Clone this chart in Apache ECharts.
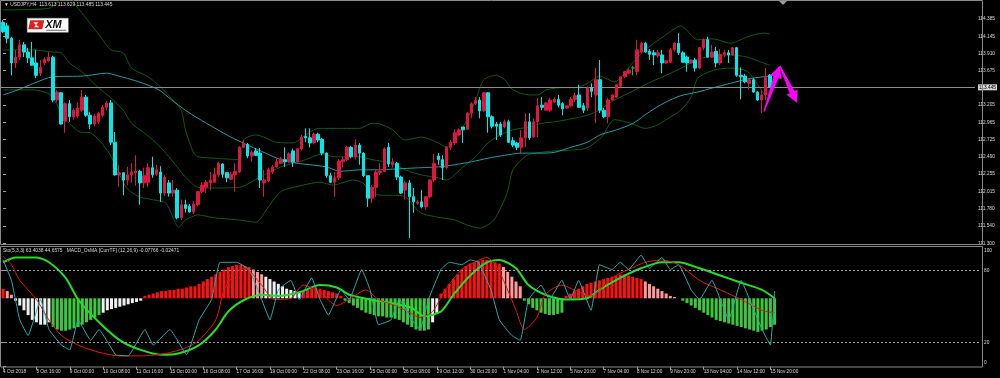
<!DOCTYPE html>
<html><head><meta charset="utf-8">
<script src="https://cdn.jsdelivr.net/npm/echarts@6/dist/echarts.min.js"></script>
<style>html,body{margin:0;padding:0;background:#000;}#c{width:1000px;height:378px;}</style>
</head><body><div id="c"></div>
<script>
// ---------------- DATA ----------------
const timeTicks = ['4 Oct 2018','5 Oct 16:00','9 Oct 00:00','10 Oct 08:00','11 Oct 16:00','15 Oct 00:00','16 Oct 08:00','17 Oct 16:00','19 Oct 00:00','22 Oct 08:00','23 Oct 16:00','25 Oct 00:00','26 Oct 08:00','29 Oct 12:00','30 Oct 20:00','1 Nov 04:00','2 Nov 12:00','5 Nov 20:00','7 Nov 04:00','8 Nov 12:00','9 Nov 20:00','13 Nov 04:00','14 Nov 12:00','15 Nov 20:00'];
const priceTicks = [114.385,114.145,113.910,113.675,113.205,112.965,112.725,112.490,112.255,112.015,111.780,111.540,111.300];
const stochTicks = [100,80,20,0];
const currentPrice = 113.445;

const opens = [114.34,114.29,114.12,113.78,113.86,114.03,113.93,113.85,113.78,113.64,
113.78,113.81,113.86,113.27,113.37,112.98,113.22,113.04,113.05,113.13,
113.31,113.06,112.94,112.97,113.06,113.17,113.23,112.69,112.24,112.27,
112.17,112.24,112.27,112.29,112.13,112.14,112.34,112.25,112.28,111.99,
112.13,111.99,112.03,111.65,111.83,111.81,111.73,111.83,112.01,112.07,
112.13,112.14,112.24,112.39,112.27,112.18,112.24,112.28,112.62,112.66,
112.50,112.57,112.54,112.13,112.16,112.28,112.35,112.40,112.45,112.42,
112.57,112.42,112.60,112.77,112.75,112.68,112.80,112.73,112.54,112.23,
112.14,112.20,112.42,112.45,112.62,112.49,112.65,112.54,112.23,111.92,
112.07,112.27,112.29,112.62,112.38,112.40,112.21,112.03,112.13,111.94,
111.85,111.87,111.80,111.94,112.17,112.50,112.45,112.34,112.62,112.68,
112.79,112.90,112.87,113.09,113.22,113.27,113.12,113.37,113.04,112.94,
112.94,112.90,112.97,112.71,112.68,112.62,112.75,112.97,112.76,112.97,
113.20,113.13,113.13,113.24,113.28,113.22,113.16,113.19,113.28,113.34,
113.19,113.16,113.44,113.34,113.55,113.13,113.04,113.27,113.31,113.46,
113.59,113.64,113.71,113.66,113.93,114.05,113.94,113.92,113.88,113.89,
113.78,113.79,113.96,114.05,113.92,113.86,113.78,113.82,113.71,113.99,
114.10,113.86,113.94,113.78,113.90,113.92,113.89,113.99,113.61,113.60,
113.50,113.55,113.38,113.27,113.34,113.613];
const closes = [114.21,114.12,113.78,113.86,114.03,113.93,113.85,113.75,113.61,113.72,
113.83,113.86,113.27,113.38,112.94,113.22,113.04,113.13,113.16,113.31,
113.06,112.94,113.05,113.09,113.17,113.23,112.69,112.24,112.27,112.17,
112.24,112.28,112.29,112.13,112.23,112.34,112.24,112.31,111.99,112.21,
111.99,112.03,111.65,111.83,111.78,111.73,111.84,112.01,112.10,112.14,
112.17,112.25,112.40,112.25,112.20,112.25,112.29,112.62,112.68,112.50,
112.55,112.51,112.17,112.17,112.31,112.35,112.42,112.46,112.42,112.53,
112.42,112.60,112.76,112.75,112.68,112.80,112.72,112.54,112.23,112.14,
112.20,112.43,112.45,112.62,112.49,112.65,112.54,112.23,111.92,112.07,
112.28,112.29,112.60,112.39,112.42,112.21,111.99,112.13,111.94,111.87,
111.87,111.80,111.94,112.17,112.40,112.45,112.34,112.62,112.69,112.82,
112.86,112.86,113.09,113.22,113.27,113.12,113.37,113.04,112.91,112.91,
112.79,112.97,112.69,112.65,112.62,112.75,112.97,112.75,112.97,113.19,
113.17,113.23,113.27,113.28,113.20,113.15,113.19,113.28,113.33,113.17,
113.13,113.44,113.39,113.55,113.13,113.04,113.27,113.34,113.48,113.59,
113.66,113.68,113.71,113.96,114.05,113.93,113.90,113.89,113.92,113.78,
113.81,113.96,114.05,113.92,113.79,113.78,113.82,113.71,113.99,114.10,
113.86,113.93,113.78,113.90,113.92,113.89,113.99,113.61,113.59,113.52,
113.55,113.38,113.27,113.34,113.59,113.445];
const highs = [114.37,114.33,114.14,113.96,114.10,114.07,113.99,114.07,113.96,113.82,
113.86,113.93,113.88,113.41,113.38,113.24,113.27,113.16,113.24,113.41,
113.34,113.11,113.08,113.11,113.20,113.26,113.27,112.83,112.38,112.28,
112.35,112.40,112.51,112.31,112.34,112.40,112.49,112.38,112.36,112.24,
112.17,112.17,112.06,111.90,111.90,111.84,111.88,112.02,112.14,112.17,
112.28,112.34,112.42,112.40,112.28,112.28,112.40,112.64,112.72,112.68,
112.58,112.61,112.61,112.31,112.34,112.38,112.46,112.49,112.62,112.55,
112.60,112.61,112.79,112.88,112.88,112.82,112.82,112.75,112.55,112.27,
112.28,112.46,112.49,112.64,112.64,112.73,112.68,112.55,112.23,112.10,
112.31,112.40,112.62,112.68,112.47,112.42,112.23,112.16,112.17,112.06,
111.90,112.03,111.95,112.18,112.53,112.54,112.51,112.64,112.72,112.87,
112.88,112.90,113.11,113.24,113.31,113.31,113.38,113.38,113.06,112.97,
112.97,113.00,113.00,112.76,112.69,112.86,113.09,113.09,113.02,113.30,
113.31,113.24,113.30,113.31,113.34,113.24,113.20,113.31,113.37,113.48,
113.23,113.46,113.50,113.71,113.82,113.16,113.30,113.35,113.49,113.60,
113.67,113.71,113.74,114.10,114.07,114.07,113.97,113.96,113.96,113.96,
113.82,113.99,114.07,114.19,113.94,113.88,113.83,113.85,114.00,114.12,
114.14,114.03,114.00,113.97,113.96,113.96,114.00,114.00,113.72,113.63,
113.57,113.57,113.39,113.41,113.71,113.629];
const lows = [114.19,114.05,113.61,113.71,113.82,113.86,113.78,113.74,113.57,113.60,
113.75,113.79,113.24,113.24,112.93,112.82,112.97,113.00,113.02,113.11,
113.04,112.87,112.91,112.94,113.04,113.13,112.65,112.23,112.07,111.96,
112.10,112.13,112.09,111.83,112.06,112.07,112.20,112.23,111.87,111.95,
111.94,111.94,111.63,111.62,111.72,111.72,111.70,111.81,111.99,111.99,
112.03,112.13,112.21,112.20,112.14,112.17,112.01,112.27,112.61,112.47,
112.42,112.50,112.06,111.94,112.14,112.25,112.34,112.39,112.35,112.40,
112.35,112.40,112.58,112.69,112.62,112.66,112.69,112.51,112.20,112.13,
111.94,112.17,112.34,112.43,112.47,112.45,112.38,112.21,111.80,111.85,
111.94,112.24,112.28,112.35,112.34,112.17,111.98,111.90,111.37,111.72,
111.83,111.78,111.76,111.92,112.14,112.38,112.17,112.32,112.58,112.65,
112.77,112.68,112.86,113.02,113.20,113.02,113.11,112.82,112.88,112.72,
112.76,112.88,112.68,112.62,112.58,112.54,112.62,112.72,112.75,112.76,
113.13,113.12,113.11,113.23,113.17,113.06,113.15,113.17,113.24,113.16,
113.09,113.12,113.31,112.95,113.09,113.02,112.95,113.26,113.30,113.45,
113.57,113.63,113.61,113.61,113.92,113.92,113.82,113.75,113.85,113.64,
113.77,113.78,113.94,113.89,113.78,113.66,113.77,113.66,113.70,113.96,
113.86,113.85,113.72,113.75,113.86,113.78,113.88,113.59,113.28,113.50,
113.41,113.37,113.26,113.09,113.27,113.435];

// Bollinger bands & slow MA, read as [bar index, price]
const bbUpper = [[0,114.51],[11,114.53],[14,114.66],[16,114.72],[17.5,114.58],[20.4,114.37],[23.5,114.14],[26,113.96],[29,113.92],[31,113.71],[35,113.59],[38,113.45],[41,113.27],[43,113.13],[44,112.86],[46,112.54],[47,112.49],[51,112.47],[57,112.45],[58,112.72],[61,112.79],[66,112.69],[70,112.68],[73,112.79],[76,112.88],[82,112.88],[86,112.88],[89,112.95],[91,112.94],[94,112.86],[97,112.72],[101,112.76],[105,112.68],[107,112.62],[111,112.90],[114,113.27],[116,113.55],[119,113.61],[121,113.55],[123,113.41],[127,113.34],[129,113.34],[131,113.41],[135,113.44],[138,113.44],[141,113.50],[144,113.60],[147.5,113.52],[152,113.79],[155.6,113.99],[159.5,114.15],[163.5,114.29],[167.6,114.10],[171.4,114.11],[175.5,114.05],[179.6,114.14],[183.4,114.19],[185,114.18]];
const bbMiddle = [[0,113.96],[7,113.96],[12,113.93],[14,113.92],[16,113.78],[19,113.66],[21,113.55],[23,113.44],[26,113.30],[29,113.13],[31,112.95],[34,112.82],[37,112.68],[40,112.49],[42,112.35],[44,112.21],[47,112.07],[51,112.06],[57,112.07],[62,112.21],[67,112.35],[73,112.45],[77,112.53],[80,112.49],[86,112.49],[89,112.45],[94,112.40],[97,112.31],[101,112.24],[105,112.20],[107,112.17],[111,112.35],[114,112.49],[117,112.68],[120,112.79],[123,112.86],[127,112.90],[130,112.95],[133,112.97],[136,113.00],[141,113.06],[144,113.14],[147.5,113.27],[151.5,113.38],[155.6,113.50],[159.5,113.60],[163.7,113.71],[167.6,113.83],[171.4,113.88],[175.5,113.89],[179.6,113.86],[183.4,113.78],[185,113.75]];
const bbLower = [[0,113.41],[7,113.41],[11.5,113.34],[14.3,113.06],[16,112.95],[18.5,112.83],[21,112.82],[25.6,112.54],[29.7,112.07],[32.8,111.94],[36,111.90],[39.3,111.85],[42.4,111.52],[44,111.62],[47,111.69],[51,111.65],[57,111.62],[61,111.59],[64,111.80],[67,112.01],[72.4,112.10],[76.5,112.14],[79.6,112.10],[84.4,112.17],[86.8,112.13],[89,111.99],[91.6,111.96],[94,111.96],[97,111.94],[100.7,111.72],[104.8,111.66],[109,111.62],[112,111.55],[115,111.51],[118.4,111.62],[121.6,111.99],[123,112.31],[126.4,112.51],[129.6,112.55],[133,112.57],[136.7,112.58],[140.8,112.61],[144.4,112.76],[147.5,113.00],[151.5,112.95],[154.9,112.88],[158,112.93],[161.1,113.04],[163.5,113.13],[166,113.31],[167.6,113.57],[171.4,113.68],[175.5,113.71],[179.6,113.66],[183.4,113.37],[185,113.24]];
const slowMA = [[0,113.34],[3.6,113.41],[7.4,113.50],[12,113.59],[19.4,113.60],[25,113.64],[27.3,113.61],[32.8,113.52],[37.6,113.41],[40.7,113.27],[44,113.13],[47,113.02],[55,112.76],[63.3,112.54],[67,112.45],[71,112.40],[74,112.38],[78,112.35],[81.3,112.29],[86,112.31],[91,112.31],[94,112.32],[101,112.34],[105,112.35],[109,112.38],[113,112.42],[117,112.47],[121,112.51],[125,112.54],[129,112.54],[133,112.55],[137,112.62],[141,112.69],[144,112.79],[148,112.86],[152,112.95],[156,113.11],[159.5,113.23],[163.5,113.33],[167.6,113.38],[171.4,113.44],[175.5,113.50],[179.6,113.56],[183.4,113.59],[185,113.60]];

// Indicator window: Stochastic(5,3,3) main / signal, OsMA signal line, OsMA histogram
const stochMain = [[0,89],[2,72],[4,39],[6,26],[9,56],[11,31],[14,18],[16,14],[18,39],[21,22],[23,31],[27,10],[30,9],[34,31],[36,18],[40,31],[44,10],[47,39],[50,56],[52,87],[56,87],[59,81],[62,56],[64,39],[66,64],[69,72],[71,56],[74,74],[76,56],[78,43],[81,64],[83,56],[86,81],[88,64],[90,35],[93,39],[95,56],[98,39],[100,31],[102,56],[105,81],[107,87],[110,85],[112,89],[114,87],[117,64],[119,39],[122,26],[124,22],[126,56],[129,68],[131,56],[134,72],[136,56],[138,72],[141,47],[143,85],[146,81],[148,87],[150,81],[153,93],[155,82],[158,91],[160,81],[162,85],[165,64],[167,56],[170,72],[172,56],[174,39],[177,72],[179,56],[182,31],[184,18],[185,63]];
const stochSignal = [[0,92],[2,85],[4,72],[8,56],[11,39],[14,26],[18,18],[23,12],[28,9],[33,9],[39,11],[44,16],[47,22],[51,39],[53,64],[56,79],[58,82],[62,68],[65,56],[69,57],[72,68],[76,62],[80,51],[83,56],[87,64],[90,56],[94,51],[97,46],[100,41],[103,46],[106,64],[110,81],[113,87],[116,91],[118,85],[120,72],[123,47],[125,31],[128,41],[130,60],[134,68],[137,64],[141,59],[143,64],[147,76],[150,81],[154,87],[158,89],[162,85],[167,72],[172,64],[177,56],[182,47],[185,45]];
const osmaSignal = [[0,87],[3,91],[8,91],[11,87],[15,74],[18,56],[23,37],[28,22],[33,14],[38,10],[42,11],[47,18],[51,31],[54,46],[58,56],[62,60],[66,59],[71,62],[76,68],[80,66],[83,60],[88,56],[93,53],[98,49],[101,42],[105,46],[108,60],[112,76],[116,87],[119,89],[123,82],[126,68],[130,60],[135,56],[140,57],[143,64],[148,74],[153,82],[158,87],[162,87],[167,82],[172,76],[177,70],[182,64],[185,57]];
const osmaHist = [8,6,3,-2,-6,
-10,-14,-18,-20,-22,-22,-20,
-24,-26,-27,-27,-26,-25,-24,-22,-20,-18,-16,-14,
-12,-10,-9,-8,-7,-6,-5,-4,-3,-2,
2,3,4,5,6,6,7,7,8,8,9,10,10,12,
14,16,18,20,22,24,26,27,28,28,27,26,
24,22,20,
18,16,14,12,10,8,7,6,5,
6,7,8,9,8,7,6,5,4,2,
-2,-4,-6,-8,-10,-12,-13,-14,-15,-15,-16,-16,-17,-18,
-20,-22,-24,-26,-27,-27,-26,
-20,-12,
4,8,12,16,20,24,27,29,30,31,32,32,31,30,29,
26,22,18,14,10,
-2,-5,-8,-10,-12,-13,-14,-14,-13,-12,
2,4,6,8,10,12,13,14,15,16,17,18,19,20,20,19,18,17,16,
14,12,10,8,6,4,2,1,0,
-2,-4,-6,-8,-10,-12,-14,-16,-18,-19,-20,-21,-22,-23,-24,-25,-26,-27,-28,-27,-26,-24,-22];
const osmaHistKind = ('rppww'+'wwwwwww'+'gggggggggggg'+'wwwwwwwwww'+'rrrrrrrrrrrrrr'+'rrrrrrrrrrrr'+'ppp'+'wwwwwwwww'+'rrrrrrrrrr'+'gggggggggggggg'+'ggggggg'+'ww'+'rrrrrrrrrrrrrrr'+'ppppp'+'gggggggggg'+'rrrrrrrrrrrrrrrrrrr'+'ppppppppp'+'ggggggggggggggggggggggg').split('');

// hand-drawn arrows [fromIndex, fromPrice, toIndex, toPrice]
const arrows = [[183.6,113.11,187.4,113.74],[187.4,113.74,191.6,113.23]];

// ---------------- CHART ----------------
const N = 235;
const cats = [];
for (let i = 0; i < N; i++) cats.push(i % 8 === 0 && i / 8 < timeTicks.length ? timeTicks[i / 8] : '');
const FONT = 'Liberation Sans';
const TXT = '#d8d8d8';
const kindColor = {r:'#ff1010', p:'#ff9a9a', w:'#f0f0f0', g:'#3cc83c'};

const chart = echarts.init(document.getElementById('c'), null, {renderer:'canvas'});
const lineS = (data, color, w, yi, xi, z) => ({type:'line', data, xAxisIndex:xi, yAxisIndex:yi, showSymbol:false, symbol:'none', smooth:0.25, lineStyle:{color, width:w}, z, silent:true, animation:false, clip:true});

chart.setOption({
  backgroundColor:'#000',
  animation:false,
  textStyle:{fontFamily:FONT},
  grid:[
    {left:1, top:0, width:980, height:244},
    {left:1, top:246.7, width:980, height:120}
  ],
  xAxis:[
    {type:'category', gridIndex:0, data:cats, boundaryGap:true, axisLine:{show:false}, axisTick:{show:false}, axisLabel:{show:false}, splitLine:{show:false}},
    {type:'category', gridIndex:1, data:cats, boundaryGap:true, axisLine:{show:false},
      axisTick:{show:true, alignWithLabel:true, interval:(i,v)=>v!=='', length:3, lineStyle:{color:'#a0a0a0'}},
      axisLabel:{show:true, interval:0, color:TXT, fontSize:4.7, align:'left', margin:2.5, fontFamily:FONT}, splitLine:{show:false}},
    {type:'value', gridIndex:0, min:-0.5, max:N-0.5, show:false},
    {type:'value', gridIndex:1, min:-0.5, max:N-0.5, show:false}
  ],
  yAxis:[
    {type:'value', gridIndex:0, min:111.290, max:114.646, position:'right', splitLine:{show:false}, axisLine:{show:false},
      axisTick:{show:true, customValues:priceTicks, length:3, lineStyle:{color:'#a0a0a0'}},
      axisLabel:{customValues:priceTicks.concat([currentPrice]),
        formatter:v=>Math.abs(v-currentPrice)<1e-6 ? '{cur|'+v.toFixed(3)+'}' : v.toFixed(3),
        rich:{cur:{backgroundColor:'#d6d6d6', color:'#000', fontSize:4.8, padding:[1,1,0,1], fontFamily:FONT}},
        color:TXT, fontSize:4.8, margin:3, fontFamily:FONT}},
    {type:'value', gridIndex:1, min:0, max:100, position:'right', splitLine:{show:false}, axisLine:{show:false},
      axisTick:{show:true, customValues:stochTicks, length:3, lineStyle:{color:'#a0a0a0'}},
      axisLabel:{customValues:[96.5,80,20,3], formatter:v=>v>90?'100':(v<10?'0':String(v)), color:TXT, fontSize:4.8, margin:3, fontFamily:FONT}},
    {type:'value', gridIndex:1, min:-57, max:43, show:false}
  ],
  graphic:[
    {type:'rect', shape:{x:0.5,y:0.5,width:982,height:244}, style:{fill:null, stroke:'#8a8a8a', lineWidth:1}, silent:true, z:1},
    {type:'rect', shape:{x:0.5,y:246.5,width:982,height:120.5}, style:{fill:null, stroke:'#8a8a8a', lineWidth:1}, silent:true, z:1},
    {type:'polygon', shape:{points:[[779,1],[787,1],[783,5]]}, style:{fill:'#9a9a9a'}, silent:true, z:20},
    {type:'text', left:4, top:2, style:{text:'▼ USDJPY,H4  113.613 113.629 113.485 113.445', fill:TXT, fontSize:4.9, fontFamily:FONT}, z:20},
    {type:'text', left:3, top:248.5, style:{text:'Sto(5,3,3) 63.4038 44.6575   MACD_OsMA [CurrTF] (12,26,9) -0.07766 -0.02471', fill:TXT, fontSize:4.9, fontFamily:FONT}, z:20},
    {type:'group', left:27, top:18, z:30, children:[
      {type:'rect', shape:{x:0,y:0,width:41,height:14}, style:{fill:'#ffffff', stroke:'#bbbbbb', lineWidth:0.5}},
      {type:'polygon', shape:{points:[[3,2],[17,2],[15,11],[1,11]]}, style:{fill:'#e0201c'}},
      {type:'polygon', shape:{points:[[6,4],[11,4],[9,6.5],[12,9],[7,9],[8.5,6.5]]}, style:{fill:'#ffffff'}},
      {type:'text', x:18, y:1, style:{text:'XM', fill:'#111', fontSize:11, fontWeight:'bold', fontStyle:'italic', fontFamily:FONT}},
      {type:'rect', shape:{x:19,y:11.5,width:20,height:1}, style:{fill:'#666'}}
    ]}
  ],
  series:[
    {type:'candlestick', xAxisIndex:0, yAxisIndex:0, barWidth:3, z:5,
      data: opens.map((o,i)=>[o, closes[i], lows[i], highs[i]]),
      itemStyle:{color:'#e0163e', color0:'#00eaea', borderColor:'#e0163e', borderColor0:'#00eaea', borderColorDoji:'#10c010', borderWidth:1},
      markLine:{silent:true, symbol:'none', animation:false,
        lineStyle:{color:'#8c8c8c', type:'solid', width:1},
        label:{show:false},
        data:[{yAxis:currentPrice}]}
    },
    lineS(bbUpper,'#0a5e14',1,0,2,3),
    lineS(bbMiddle,'#0a5e14',1,0,2,3),
    lineS(bbLower,'#0a5e14',1,0,2,3),
    lineS(slowMA,'#1e9ea6',1,0,2,4),
    {type:'custom', xAxisIndex:2, yAxisIndex:0, z:10, silent:true, clip:false,
      data:arrows, encode:{x:[0,2], y:[1,3]},
      renderItem:(params, api)=>{
        const a = api.coord([api.value(0), api.value(1)]);
        const b = api.coord([api.value(2), api.value(3)]);
        const dx=b[0]-a[0], dy=b[1]-a[1], L=Math.hypot(dx,dy);
        const ux=dx/L, uy=dy/L, nx=-uy, ny=ux;
        const hl=Math.min(12, L*0.35);
        const q=[b[0]-ux*hl, b[1]-uy*hl];
        const pts=[[a[0]+nx*0.6,a[1]+ny*0.6],[q[0]+nx*2.6,q[1]+ny*2.6],[q[0]+nx*6,q[1]+ny*6],b,[q[0]-nx*6,q[1]-ny*6],[q[0]-nx*2.6,q[1]-ny*2.6],[a[0]-nx*0.6,a[1]-ny*0.6]];
        return {type:'polygon', shape:{points:pts}, style:{fill:'#ff00ff'}};
      }
    },
    {type:'bar', xAxisIndex:1, yAxisIndex:2, barWidth:3, z:2, silent:true,
      data: osmaHist.map((v,i)=>({value:v, itemStyle:{color:kindColor[osmaHistKind[i]]}}))},
    lineS(osmaSignal,'#22e022',2,1,3,4),
    lineS(stochSignal,'#ee1111',1,1,3,5),
    Object.assign(lineS(stochMain,'#1fb0b0',1,1,3,6), {smooth:0.1,
      markLine:{silent:true, symbol:'none', animation:false, label:{show:false},
        lineStyle:{color:'#9a9a9a', type:[2,2], width:1}, data:[{yAxis:80},{yAxis:20}]}})
  ]
});
</script>
</body></html>
